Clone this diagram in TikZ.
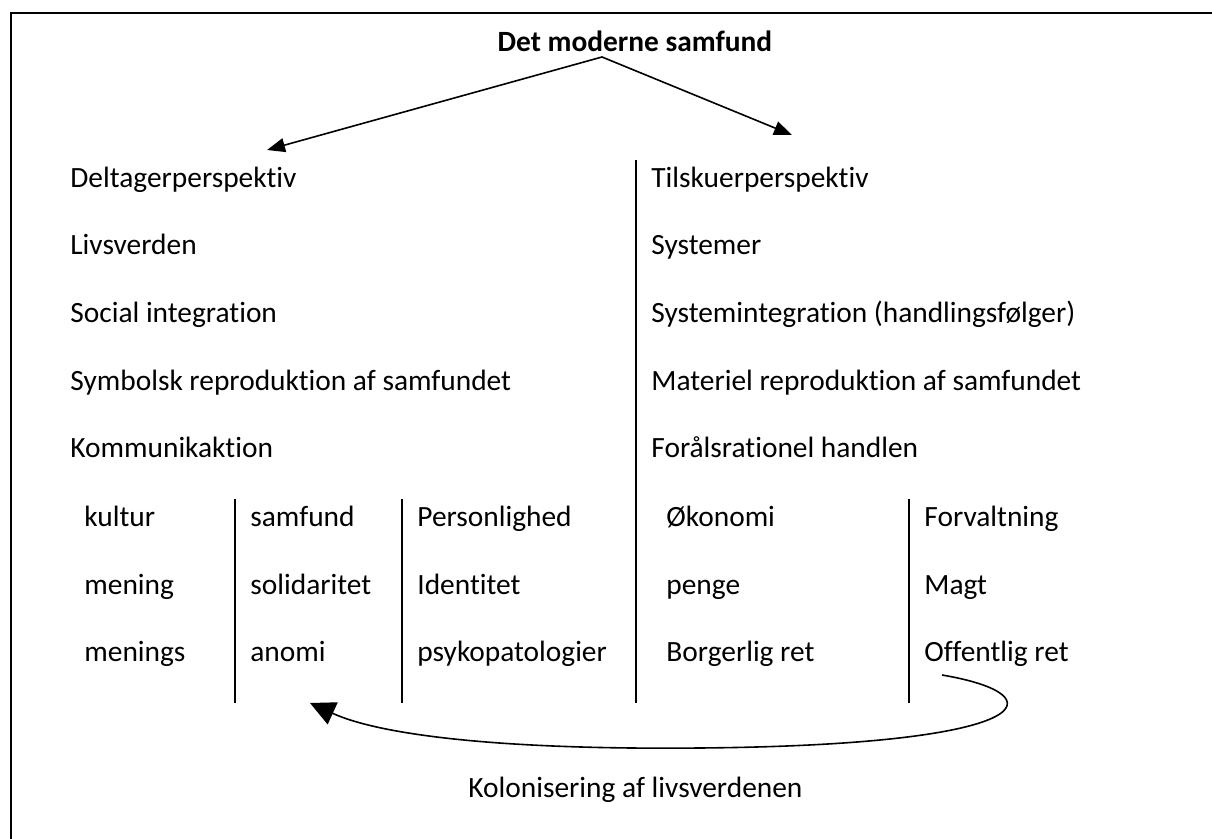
\documentclass[tikz,border=0pt]{standalone}
\usepackage{fontspec}
\setmainfont{Carlito}[RawFeature={-liga}]
\usetikzlibrary{arrows.meta}
\tikzset{
  lbl/.style={anchor=base west, inner sep=0pt, font=\fontsize{14.7}{17}\selectfont},
  ttl/.style={anchor=base, inner sep=0pt, font=\fontsize{14.7}{17}\selectfont\bfseries},
  sep/.style={line width=1pt},
  frame/.style={line width=1.4pt},
  conn/.style={line width=0.8pt, {Triangle[length=9pt,width=7pt]}-{Triangle[length=9pt,width=7pt]}},
  colarrow/.style={line width=0.8pt, -{Triangle[length=12.5pt,width=12pt]}}
}
\begin{document}
\begin{tikzpicture}[x=0.5pt,y=-0.5pt]
\useasboundingbox (0,0) rectangle (1212,839);
\draw[frame] (11,839) -- (11,13) -- (1212,13);

\node[ttl] (title) at (635,52) {Det moderne samfund};
\coordinate (apex) at (602,57);
\coordinate (ltip) at (267,150);
\coordinate (rtip) at (792,135);
\draw[conn] (ltip) -- (apex) -- (rtip);

% left column
\node[lbl] (l1) at (70,188) {Deltagerperspektiv};
\node[lbl] (l2) at (70,255) {Livsverden};
\node[lbl] (l3) at (70,323) {Social integration};
\node[lbl] (l4) at (70,391) {Symbolsk reproduktion af samfundet};
\node[lbl] (l5) at (70,458) {Kommunikaktion};
% right column
\node[lbl] (r1) at (651,188) {Tilskuerperspektiv};
\node[lbl] (r2) at (651,255) {Systemer};
\node[lbl] (r3) at (651,323) {Systemintegration (handlingsfølger)};
\node[lbl] (r4) at (651,391) {Materiel reproduktion af samfundet};
\node[lbl] (r5) at (651,458) {Forålsrationel handlen};

% sub columns
\node[lbl] (a1) at (84,527) {kultur};
\node[lbl] (a2) at (84,595) {mening};
\node[lbl] (a3) at (84,662) {menings};
\node[lbl] (b1) at (250,527) {samfund};
\node[lbl] (b2) at (250,595) {solidaritet};
\node[lbl] (b3) at (250,662) {anomi};
\node[lbl] (c1) at (417,527) {Personlighed};
\node[lbl] (c2) at (417,595) {Identitet};
\node[lbl] (c3) at (417,662) {psykopatologier};
\node[lbl] (d1) at (666,527) {Økonomi};
\node[lbl] (d2) at (666,595) {penge};
\node[lbl] (d3) at (666,662) {Borgerlig ret};
\node[lbl] (e1) at (924,527) {Forvaltning};
\node[lbl] (e2) at (924,595) {Magt};
\node[lbl] (e3) at (924,662) {Offentlig ret};

% separators
\draw[sep] (636,160) -- (636,703);
\draw[sep] (235,499) -- (235,703);
\draw[sep] (402,499) -- (402,703);
\draw[sep] (909,499) -- (909,703);

% colonisation arrow
\coordinate (cstart) at (942,675);
\coordinate (cmid) at (700,748);
\coordinate (cend) at (310,703);
\draw[colarrow] (cstart) .. controls (1060,695) and (1040,745) .. (cmid)
  .. controls (500,750) and (380,735) .. (cend);
\node[lbl] (kol) at (468,798) {Kolonisering af livsverdenen};
\end{tikzpicture}
\end{document}
